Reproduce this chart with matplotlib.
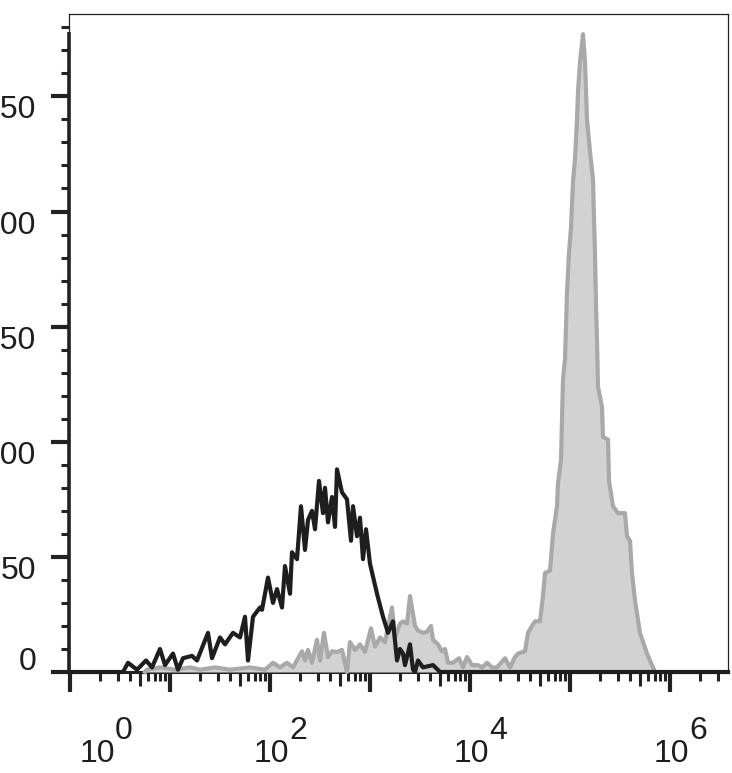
import numpy as np
import matplotlib
matplotlib.use('Agg')
import matplotlib.pyplot as plt
from matplotlib.ticker import FixedLocator, NullFormatter

plt.rcParams['font.family'] = ['Liberation Sans', 'DejaVu Sans']

# ---- data (log10 of fluorescence, event count) ----
ctrl_log = [-0.01, 0.53, 0.58, 0.67, 0.76, 0.82, 0.90, 0.95, 1.03, 1.08, 1.13, 1.22, 1.27,
            1.38, 1.42, 1.50, 1.55, 1.63, 1.70, 1.75, 1.78, 1.83, 1.90, 1.92, 1.98, 2.03,
            2.07, 2.12, 2.15, 2.20, 2.22, 2.27, 2.31, 2.35, 2.38, 2.42, 2.45, 2.49, 2.53,
            2.55, 2.58, 2.62, 2.65, 2.67, 2.72, 2.77, 2.81, 2.83, 2.87, 2.90, 2.93, 2.96,
            3.00, 3.07, 3.13, 3.18, 3.23, 3.27, 3.30, 3.33, 3.35, 3.40, 3.43, 3.45, 3.48,
            3.53, 3.63, 3.70, 6.58]
ctrl_cnt = [0, 0, 4, 1, 5, 2, 10, 3, 8, 1, 6, 7, 5,
            17, 6, 15, 12, 17, 15, 24, 5, 24, 28, 27, 41, 30,
            36, 28, 46, 34, 52, 49, 72, 53, 66, 70, 62, 83, 69,
            80, 65, 76, 63, 88, 78, 75, 57, 72, 59, 67, 49, 62,
            47, 34, 24, 17, 22, 5, 10, 8, 3, 12, 1, 0, 5,
            2, 3, 0, 0]

stain_log = [0.75, 0.77, 0.90, 1.05, 1.20, 1.30, 1.45, 1.60, 1.80, 1.95, 2.03, 2.10, 2.17,
             2.23, 2.32, 2.35, 2.38, 2.42, 2.47, 2.50, 2.54, 2.58, 2.62, 2.67, 2.72, 2.77,
             2.80, 2.85, 2.90, 2.95, 3.01, 3.05, 3.10, 3.15, 3.22, 3.25, 3.30, 3.33, 3.37,
             3.40, 3.45, 3.48, 3.53, 3.57, 3.61, 3.63, 3.68, 3.72, 3.75, 3.78, 3.83, 3.89,
             3.93, 3.97, 4.02, 4.08, 4.12, 4.17, 4.22, 4.27, 4.35, 4.40, 4.45, 4.48, 4.55,
             4.58, 4.62, 4.65, 4.70, 4.73, 4.75, 4.80, 4.83, 4.87, 4.88, 4.91, 4.92, 4.93,
             4.95, 4.96, 4.97, 4.99, 5.01, 5.03, 5.05, 5.07, 5.08, 5.10, 5.13, 5.15, 5.17,
             5.20, 5.23, 5.24, 5.25, 5.26, 5.27, 5.28, 5.32, 5.33, 5.38, 5.39, 5.43, 5.48,
             5.55, 5.57, 5.60, 5.62, 5.65, 5.70, 5.77, 5.82, 5.85]
stain_cnt = [0, 1, 2, 1, 2, 1, 2, 1, 2, 1, 4, 2, 4,
             2, 9, 5, 9.6, 4, 14, 5, 17, 6.5, 9, 8.7, 9.6, 0,
             13, 9.6, 12, 8.7, 19, 11, 15, 13, 28, 15, 21, 22, 21,
             33, 20, 18, 17, 17.5, 20, 14, 12, 9, 10, 4, 4, 6,
             2, 6.5, 3, 3, 2, 4, 2, 2, 6, 2, 6.5, 8, 9,
             17, 20, 22, 22, 33, 43, 44, 60, 72, 82, 92, 110, 127,
             136, 150, 165, 182, 193, 213, 223, 240, 252, 265, 277, 265, 240,
             226, 214, 197, 182, 160, 144, 124, 115, 102, 101, 83, 72, 69,
             69, 59, 57, 43, 31, 17, 8, 3, 0]

x_label_exps = [0, 2, 4, 6]
y_major = [0, 50, 100, 150, 200, 250]

# ---- figure ----
W, H = 732, 773
fig = plt.figure(figsize=(W / 100, H / 100), dpi=100)
ax = fig.add_axes([69 / W, 101 / H, 659 / W, 658.5 / H])
ax.set_xscale('log')
ax.set_xlim(10 ** -0.01, 10 ** 6.58)
ax.set_ylim(0, 286)

sx = 10 ** np.array(stain_log)
cx = 10 ** np.array(ctrl_log)
ax.fill_between(sx, 0, stain_cnt, color='#d2d2d2', lw=0, zorder=3, clip_on=False)
ax.plot(sx, stain_cnt, color='#a9a9a9', lw=3.0, zorder=4, clip_on=False)
ax.plot(cx, ctrl_cnt, color='#1e1e1e', lw=3.0, zorder=5, clip_on=False)

# spines
for s in ['top', 'right']:
    ax.spines[s].set_linewidth(0.9)
    ax.spines[s].set_color('#222222')
ax.spines['bottom'].set_linewidth(2.2)
ax.spines['bottom'].set_color('#222222')
ax.spines['left'].set_linewidth(0.9)
ax.spines['left'].set_color('#222222')
ax.plot([10 ** -0.01, 10 ** -0.01], [0, 278], color='#222222', lw=2.6,
        clip_on=False, zorder=6, solid_capstyle='butt')

# x ticks
ax.xaxis.set_major_locator(FixedLocator([10.0 ** k for k in range(0, 7)]))
minors = [m * 10.0 ** k for k in range(0, 7) for m in range(2, 10) if m * 10.0 ** k <= 10 ** 6.58]
ax.xaxis.set_minor_locator(FixedLocator(minors))
ax.xaxis.set_major_formatter(NullFormatter())
ax.xaxis.set_minor_formatter(NullFormatter())
ax.tick_params(axis='x', which='major', direction='out', length=14.5, width=3, color='#222222')
ax.tick_params(axis='x', which='minor', direction='out', length=6.5, width=2.2, color='#222222')
trans_x = ax.get_xaxis_transform()
for k in range(0, 7):
    v = 5 * 10.0 ** k
    if v <= 10 ** 6.58:
        ax.plot([v, v], [0, -14 / 658.5], transform=trans_x, color='#222222', lw=2.2,
                clip_on=False, solid_capstyle='butt')

# y ticks
ax.yaxis.set_major_locator(FixedLocator(y_major))
ax.yaxis.set_minor_locator(FixedLocator([v for v in range(10, 290, 10) if v % 50 != 0]))
ax.yaxis.set_major_formatter(NullFormatter())
ax.tick_params(axis='y', which='major', direction='out', length=13, width=3, color='#222222')
ax.tick_params(axis='y', which='minor', direction='out', length=6, width=2.2, color='#222222')

FS = 23
tcol = '#1e1e1e'
for v in y_major:
    if v == 0:
        ax.annotate(str(v), xy=(0, v), xycoords=('axes fraction', 'data'), xytext=(-33, 2),
                    textcoords='offset pixels', ha='right', va='baseline', fontsize=FS,
                    color=tcol, annotation_clip=False)
    else:
        ax.annotate(str(v), xy=(0, v), xycoords=('axes fraction', 'data'), xytext=(-33, 1),
                    textcoords='offset pixels', ha='right', va='top', fontsize=FS,
                    color=tcol, annotation_clip=False)

for k in x_label_exps:
    shift = 27.5 if k == 0 else 1.5
    ax.annotate('10', xy=(10.0 ** k, 0), xycoords=('data', 'axes fraction'),
                xytext=(shift, -90), textcoords='offset pixels', ha='center', va='baseline',
                fontsize=FS, color=tcol, annotation_clip=False)
    ax.annotate(str(k), xy=(10.0 ** k, 0), xycoords=('data', 'axes fraction'),
                xytext=(shift + 17.5, -67), textcoords='offset pixels', ha='left', va='baseline',
                fontsize=FS, color=tcol, annotation_clip=False)

fig.savefig('out.png', dpi=100)
